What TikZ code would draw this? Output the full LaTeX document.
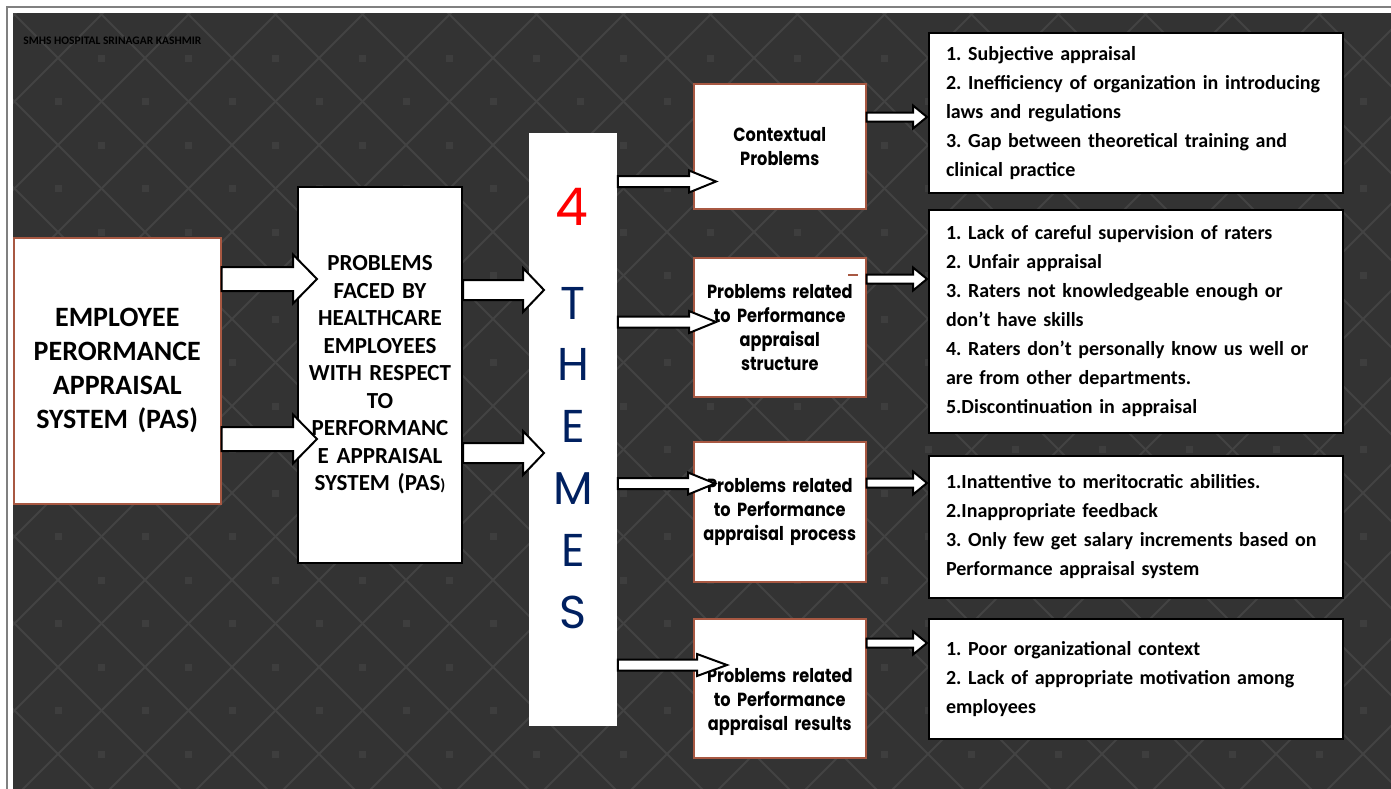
\documentclass[tikz,border=0pt]{standalone}
\usepackage{fontspec}
\setmainfont{Carlito}
\newfontfamily\gothic[FakeStretch=0.85]{Poppins}
\newfontfamily\lettering{Poppins}
\usetikzlibrary{calc}
\frenchspacing

\definecolor{slate}{RGB}{51,51,51}
\definecolor{lattice}{RGB}{67,67,67}
\definecolor{speck}{RGB}{62,62,62}
\definecolor{rust}{RGB}{168,88,66}
\definecolor{navy}{RGB}{0,32,96}

\tikzset{
  fat/.style={draw=black, fill=white, line width=1pt, line join=miter},
  pasbox/.style={draw=rust, line width=0.75pt, fill=white, anchor=north west, inner sep=2pt, align=center},
  facedbox/.style={draw=black, line width=1pt, fill=white, anchor=north west, inner sep=2pt, align=center},
  themetext/.style={text width=80pt, inner xsep=3pt, align=center, font=\gothic\bfseries\fontsize{9.5}{12}\selectfont},
  themebox/.style={themetext, draw=rust, line width=0.75pt, fill=white, anchor=north west, minimum width=86pt},
  listbox/.style={draw=black, line width=1pt, fill=white, anchor=north west, minimum width=207pt,
    text width=190pt, inner xsep=8.5pt, align=left, font=\fontsize{10}{14.5}\selectfont\bfseries},
  letter/.style={text=navy, inner sep=0pt, font=\lettering\fontsize{23}{23}\selectfont}
}

% block arrow: tail, tip, shaft half height, head half height, head length
\newcommand\fatarrow[5]{%
  \draw[fat] ($(#1)+(0,#3)$) -- ($(#2)+(-#5,#3)$) -- ($(#2)+(-#5,#4)$) -- (#2)
    -- ($(#2)+(-#5,-#4)$) -- ($(#2)+(-#5,-#3)$) -- ($(#1)+(0,-#3)$) -- cycle;}

\begin{document}
\begin{tikzpicture}[x=0.5pt, y=-0.5pt]
\useasboundingbox (0,0) rectangle (1391,788);
\fill[white] (0,0) rectangle (1391,788);
\draw[gray, line width=1pt] (7,800) -- (7,7) -- (1400,7);

% dark backdrop with diamond lattice
\begin{scope}
  \clip (13,13) rectangle (1400,800);
  \fill[slate] (13,13) rectangle (1400,800);
  \foreach \k in {-10,...,17}
    \draw[lattice, line width=1pt] ({87*\k},0) -- ({87*\k+820},820);
  \foreach \k in {-1,...,26}
    \draw[lattice, line width=1pt] ({29+87*\k},0) -- ({29+87*\k-820},820);
  \foreach \i in {0,...,16}
    \foreach \j in {0,...,9}{
      \fill[speck] ({98+87*\i},{54.5+87*\j}) rectangle ++(7,7);
      \fill[speck] ({54.5+87*\i},{98+87*\j}) rectangle ++(7,7);
    }
\end{scope}

\node[anchor=base west, inner sep=0pt, font=\fontsize{5.75}{7}\selectfont\bfseries] (hosp) at (23,44)
  {SMHS HOSPITAL SRINAGAR KASHMIR};

% left part
\node[pasbox, minimum width=103.5pt, minimum height=133pt, text width=90pt,
  font=\fontsize{14}{17}\selectfont\bfseries] (pas) at (13,237)
  {EMPLOYEE\\PERORMANCE\\APPRAISAL\\SYSTEM (PAS)};
\node[facedbox, minimum width=82pt, minimum height=188pt, text width=75pt,
  font=\fontsize{11.5}{13.75}\selectfont\bfseries] (faced) at (297,186)
  {PROBLEMS\\FACED BY\\HEALTHCARE\\EMPLOYEES\\WITH RESPECT\\TO\\PERFORMANC\\E APPRAISAL\\SYSTEM (PAS{\fontsize{8}{8}\selectfont)}};

% themes column
\node[fill=white, anchor=north west, minimum width=44pt, minimum height=296.5pt, inner sep=0pt] (themes) at (529,133) {};
\node[text=red, inner sep=0pt, font=\lettering\fontsize{26}{26}\selectfont] (four) at (572,207) {4};
\foreach \c [count=\i] in {T,H,E,M,E,S}
  \node[letter] (th\i) at (573,{303+61.8*(\i-1)}) {\c};

% the four themes
\node[themebox, minimum height=62.5pt] (ctx) at (693,83) {Contextual\\Problems};
\node[themebox, minimum height=69.5pt] (struct) at (693,257) {Problems related\\to Performance\\appraisal\\structure};
\node[themebox, minimum height=70pt] (proc) at (693,441) {Problems related\\to Performance\\appraisal process};
\node[themebox, minimum height=69.5pt] (res) at (693,618) {};
\node[themetext] (resText) at ($(res.center)+(0,14)$) {Problems related\\to Performance\\appraisal results};
\draw[rust, line width=0.6pt] (848,275) -- (858,275);

% lists of problems
\node[listbox, minimum height=80pt] (listCtx) at (928,32)
  {1. Subjective appraisal\\
   2. Inefficiency of organization in introducing\\
   laws and regulations\\
   3. Gap between theoretical training and\\
   clinical practice};
\node[listbox, minimum height=111.5pt] (listStruct) at (928,209)
  {1. Lack of careful supervision of raters\\
   2. Unfair appraisal\\
   3. Raters not knowledgeable enough or\\
   don’t have skills\\
   4. Raters don’t personally know us well or\\
   are from other departments.\\
   5.Discontinuation in appraisal};
\node[listbox, minimum height=71pt] (listProc) at (928,455)
  {1.Inattentive to meritocratic abilities.\\
   2.Inappropriate feedback\\
   3. Only few get salary increments based on\\
   Performance appraisal system};
\node[listbox, minimum height=60pt] (listRes) at (928,618)
  {1. Poor organizational context\\
   2. Lack of appropriate motivation among\\
   employees};

% arrow tips
\coordinate (tipA) at (317,279);
\coordinate (tipB) at (317,439);
\coordinate (tipC) at (544,290);
\coordinate (tipD) at (544,453);
\coordinate (tipE) at (716,181.5);
\coordinate (tipF) at (716,322);
\coordinate (tipG) at (715,483.5);
\coordinate (tipH) at (727,665);
\coordinate (tipI) at (927,117);
\coordinate (tipJ) at (927,279);
\coordinate (tipK) at (927,483);
\coordinate (tipL) at (927,643);

\fatarrow{pas.east |- tipA}{tipA}{12}{24.5}{24}
\fatarrow{pas.east |- tipB}{tipB}{12}{24.5}{24}
\fatarrow{faced.east |- tipC}{tipC}{10}{22}{21}
\fatarrow{faced.east |- tipD}{tipD}{10}{22}{21}
\fatarrow{themes.east |- tipE}{tipE}{5.5}{11}{27}
\fatarrow{themes.east |- tipF}{tipF}{5.5}{11}{27}
\fatarrow{themes.east |- tipG}{tipG}{5.5}{11}{27}
\fatarrow{themes.east |- tipH}{tipH}{5.5}{11}{30}
\fatarrow{ctx.east |- tipI}{tipI}{4.5}{11.5}{14}
\fatarrow{struct.east |- tipJ}{tipJ}{4.5}{11.5}{14}
\fatarrow{proc.east |- tipK}{tipK}{4.5}{11.5}{14}
\fatarrow{res.east |- tipL}{tipL}{4.5}{11.5}{14}
\end{tikzpicture}
\end{document}
